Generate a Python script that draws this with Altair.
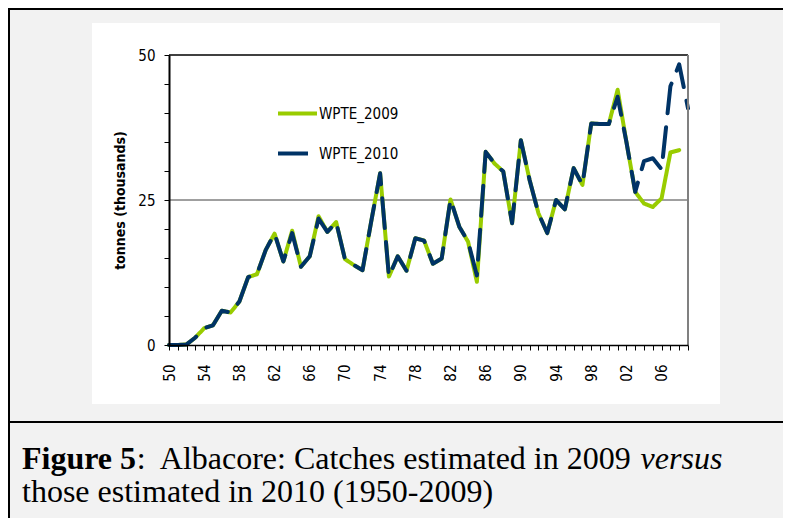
import altair as alt
import pandas as pd

# ---------------- data ----------------
years = list(range(1950, 2010))
series_names = ["WPTE_2009", "WPTE_2010"]

wpte_2009 = [0.0, 0.0, 0.1, 1.3, 2.9, 3.4, 5.9, 5.6, 7.5, 11.7,
             12.2, 16.4, 19.2, 14.4, 19.7, 13.5, 15.3, 22.2, 19.5, 21.2,
             14.8, 13.8, 12.9, 21.4, 29.6, 11.8, 15.3, 12.8, 18.4, 18.0,
             14.0, 14.9, 25.1, 20.4, 17.8, 10.9, 33.3, 31.3, 29.9, 21.0,
             35.3, 28.4, 22.7, 19.3, 25.0, 23.4, 30.5, 27.6, 38.2, 38.1,
             38.1, 44.0, 35.0, 26.4, 24.4, 23.8, 25.3, 33.2, 33.6]

wpte_2010 = [0.0, 0.0, 0.1, 1.3, 2.9, 3.4, 5.9, 5.6, 7.5, 11.7,
             12.2, 16.4, 19.2, 14.4, 19.3, 13.5, 15.3, 21.8, 19.5, 21.2,
             14.8, 13.8, 12.9, 21.4, 29.6, 11.8, 15.3, 12.8, 18.4, 18.0,
             14.0, 14.9, 25.1, 20.4, 17.8, 12.0, 33.3, 31.3, 29.9, 21.0,
             35.3, 28.4, 22.7, 19.3, 25.0, 23.4, 30.5, 27.6, 38.2, 38.1,
             38.1, 42.8, 35.0, 26.4, 31.7, 32.2, 30.3, 44.6, 48.4, 40.8]

y_ticks = list(range(0, 51, 5))
y_title = "tonnes (thousands)"

caption_bold = "Figure 5"
caption_reg = ":\u00a0 Albacore: Catches estimated in 2009 "
caption_ital = "versus"
caption_line2 = "those estimated in 2010 (1950-2009)"

rows = []
for name, vals in zip(series_names, [wpte_2009, wpte_2010]):
    for y, v in zip(years, vals):
        rows.append({"year": y, "value": v, "series": name})
df = pd.DataFrame(rows)

# ---------------- styling ----------------
GREEN = "#99CC00"
NAVY = "#003366"
LABEL_FONT = "DejaVu Sans Condensed, DejaVu Sans"
SERIF = "Liberation Serif"
CAP_SIZE = 32

# Times/Liberation Serif advance widths (per 1000 em) for caption layout
TNR_REG = {' ': 250, '\u00a0': 250, ':': 278, 'A': 722, 'l': 278, 'b': 500, 'a': 444,
           'c': 444, 'o': 500, 'r': 333, 'e': 444, 'C': 667, 't': 278, 'h': 500,
           's': 389, 'i': 278, 'm': 778, 'd': 500, 'n': 500, '0': 500, '1': 500,
           '2': 500, '5': 500, '9': 500, 'v': 500, 'u': 500}
TNR_BOLD = {'F': 611, 'i': 278, 'g': 500, 'u': 556, 'r': 444, 'e': 444, ' ': 250, '5': 500}


def text_w(s, table, size):
    return sum(table.get(ch, 500) for ch in s) / 1000.0 * size


one = alt.Chart(pd.DataFrame({"k": [0]}))

border = one.mark_rect(fill="transparent", stroke="black", strokeWidth=2).encode(
    x=alt.value(-160), x2=alt.value(640), y=alt.value(-46), y2=alt.value(520))
panel = one.mark_rect(fill="white").encode(
    x=alt.value(-77), x2=alt.value(551), y=alt.value(-32), y2=alt.value(349))
divider = one.mark_rule(color="black", strokeWidth=2).encode(
    x=alt.value(-161), x2=alt.value(620), y=alt.value(367))

x_axis = alt.Axis(values=years, title=None, zindex=1, grid=False,
                  labelOverlap=False, labelFlush=False, labelAngle=270, labelPadding=14,
                  labelFont=LABEL_FONT, labelFontSize=15, labelColor="black",
                  tickSize=5, tickColor="black", tickWidth=1,
                  domainColor="black", domainWidth=1.5,
                  labelExpr="(datum.value - 1950) % 4 == 0 && datum.value <= 2006 ? slice(toString(datum.value), 2) : ''")
y_axis = alt.Axis(values=y_ticks, title=y_title, zindex=1, grid=False,
                  labelOverlap=False, labelFlush=False, labelPadding=9,
                  labelFont=LABEL_FONT, labelFontSize=15, labelColor="black",
                  tickSize=5, tickColor="black", tickWidth=1,
                  domainColor="black", domainWidth=2,
                  titleFont=LABEL_FONT, titleFontSize=14, titleFontWeight="bold",
                  titleColor="black", titlePadding=10,
                  labelExpr="datum.value % 25 == 0 ? datum.label : ''")
x_scale = alt.Scale(domain=[1950, 2009], nice=False, zero=False)
y_scale = alt.Scale(domain=[0, 50], nice=False)

lines = alt.Chart(df).mark_line(strokeWidth=4, strokeCap="round", strokeJoin="round").encode(
    x=alt.X("year:Q", scale=x_scale, axis=x_axis),
    y=alt.Y("value:Q", scale=y_scale, axis=y_axis),
    color=alt.Color("series:N", scale=alt.Scale(domain=series_names, range=[GREEN, NAVY]),
                    legend=alt.Legend(orient="none", legendX=107, legendY=37, title=None,
                                      symbolType="stroke", symbolSize=1521, symbolStrokeWidth=4,
                                      labelFont=LABEL_FONT, labelFontSize=15, labelColor="black",
                                      labelOffset=0, rowPadding=10, padding=0)),
    strokeDash=alt.StrokeDash("series:N",
                              scale=alt.Scale(domain=series_names, range=[[1, 0], [30, 14]]),
                              legend=None),
)

grid25 = one.mark_rule(color="#404040", strokeWidth=1).encode(
    y=alt.Y(datum=25, scale=y_scale, axis=y_axis))
top_rule = one.mark_rule(color="black", strokeWidth=1.5).encode(
    y=alt.Y(datum=50, scale=y_scale, axis=y_axis))
right_rule = one.mark_rule(color="#808080", strokeWidth=2).encode(
    x=alt.X(datum=2009, scale=x_scale, axis=x_axis))

x0 = -147
w_bold = text_w(caption_bold, TNR_BOLD, CAP_SIZE)
w_reg = text_w(caption_reg, TNR_REG, CAP_SIZE)
base_line1 = 414
base_line2 = 447

cap1 = one.mark_text(text=caption_bold, align="left", baseline="alphabetic", font=SERIF,
                     fontSize=CAP_SIZE, fontWeight="bold", color="black").encode(
    x=alt.value(x0), y=alt.value(base_line1))
cap2 = one.mark_text(text=caption_reg, align="left", baseline="alphabetic", font=SERIF,
                     fontSize=CAP_SIZE, color="black").encode(
    x=alt.value(x0 + w_bold), y=alt.value(base_line1))
cap3 = one.mark_text(text=caption_ital, align="left", baseline="alphabetic", font=SERIF,
                     fontSize=CAP_SIZE, fontStyle="italic", color="black").encode(
    x=alt.value(x0 + w_bold + w_reg), y=alt.value(base_line1))
cap4 = one.mark_text(text=caption_line2, align="left", baseline="alphabetic", font=SERIF,
                     fontSize=CAP_SIZE, color="black").encode(
    x=alt.value(x0), y=alt.value(base_line2))

chart = alt.layer(
    border, panel, divider, grid25, lines, top_rule, right_rule, cap1, cap2, cap3, cap4
).properties(
    width=519, height=290,
    autosize=alt.AutoSizeParams(type="none"),
    padding={"left": 161, "top": 47, "right": 95, "bottom": 173},
    background="#f2f2f2",
).configure_view(strokeWidth=0)

chart.save("out.html", embed_options={"renderer": "svg", "actions": False})
